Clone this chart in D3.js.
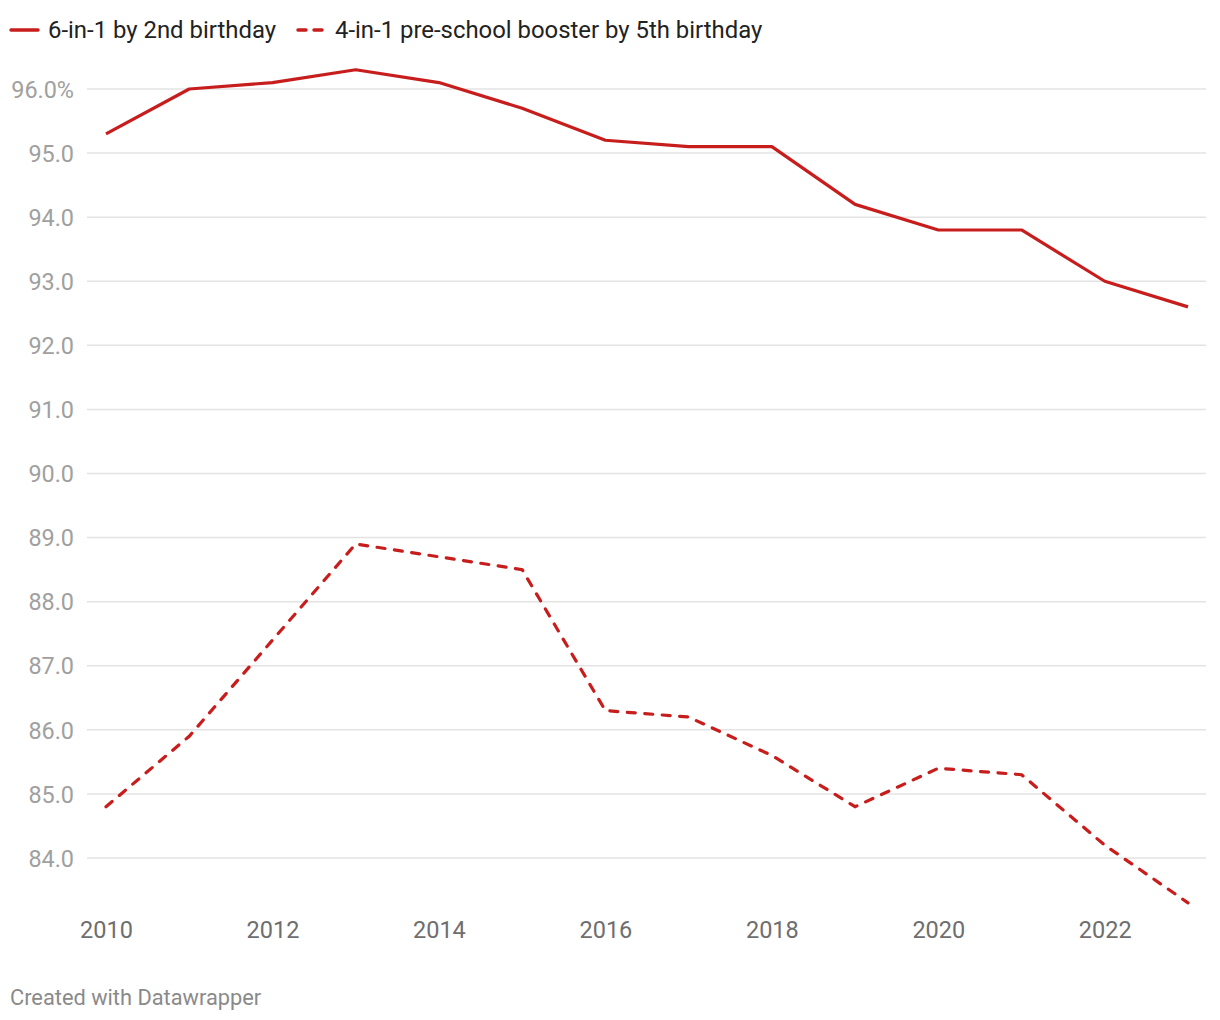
<!DOCTYPE html>
<html><head><meta charset="utf-8">
<script src="https://cdn.jsdelivr.net/npm/d3@7"></script>
<style>
body{margin:0;background:#fff;font-family:Roboto,"Noto Sans",sans-serif;}
svg{display:block;}
</style></head><body>
<svg id="c" width="1220" height="1020"></svg>
<script>
const years = [2010,2011,2012,2013,2014,2015,2016,2017,2018,2019,2020,2021,2022,2023];
const sixInOne = [95.3,96.0,96.1,96.3,96.1,95.7,95.2,95.1,95.1,94.2,93.8,93.8,93.0,92.6];
const fourInOne = [84.8,85.9,87.4,88.9,88.7,88.5,86.3,86.2,85.6,84.8,85.4,85.3,84.2,83.3];
const yTicks = [84,85,86,87,88,89,90,91,92,93,94,95,96];
const xTicks = [2010,2012,2014,2016,2018,2020,2022];
const seriesNames = ["6-in-1 by 2nd birthday","4-in-1 pre-school booster by 5th birthday"];
const red = "#c71e1d";

const svg = d3.select("#c");
const x = d3.scaleLinear().domain([2010,2023]).range([106,1188]);
const y = d3.scaleLinear().domain([84,96]).range([858,89]);

// grid
svg.append("g").selectAll("line").data(yTicks).join("line")
  .attr("x1",87).attr("x2",1206).attr("y1",d=>y(d)).attr("y2",d=>y(d))
  .attr("stroke","#e3e3e3").attr("stroke-width",1.5);
const yAxis = d3.axisLeft(y).tickValues(yTicks).tickSize(0).tickPadding(0)
  .tickFormat(d => d===96 ? d.toFixed(1)+"%" : d.toFixed(1));
const gy = svg.append("g").attr("transform","translate(74,0)").call(yAxis);
gy.select(".domain").remove();
gy.selectAll("text").attr("font-family","Roboto").attr("font-size",23.4).attr("fill","#a0a0a0").attr("dy","0.35em");

const xAxis = d3.axisBottom(x).tickValues(xTicks).tickSize(0).tickPadding(0).tickFormat(d3.format("d"));
const gx = svg.append("g").attr("transform","translate(0,922)").call(xAxis);
gx.select(".domain").remove();
gx.selectAll("text").attr("font-family","Roboto").attr("font-size",23.5).attr("fill","#6e6e6e").attr("dy","0.35em").attr("y",8);

const line = d3.line().x((d,i)=>x(years[i])).y(d=>y(d));
svg.append("path").datum(sixInOne).attr("d",line).attr("fill","none")
  .attr("stroke",red).attr("stroke-width",3.2).attr("stroke-linejoin","round");
svg.append("path").datum(fourInOne).attr("d",line).attr("fill","none")
  .attr("stroke",red).attr("stroke-width",3.2).attr("stroke-dasharray","8,9.5").attr("stroke-linecap","round");

// legend
const lg = svg.append("g");
lg.append("line").attr("x1",11).attr("x2",38).attr("y1",30).attr("y2",30).attr("stroke",red).attr("stroke-width",3.5).attr("stroke-linecap","round");
lg.append("text").attr("x",48).attr("y",30).attr("dy","0.35em").attr("font-size",23.9).attr("fill","#222").text(seriesNames[0]);
lg.append("line").attr("x1",298).attr("x2",325).attr("y1",30).attr("y2",30).attr("stroke",red).attr("stroke-width",3.5).attr("stroke-dasharray","8,8").attr("stroke-linecap","round");
lg.append("text").attr("x",335).attr("y",30).attr("dy","0.35em").attr("font-size",23.9).attr("fill","#222").text(seriesNames[1]);

svg.append("text").attr("x",10).attr("y",997).attr("dy","0.35em").attr("font-size",21.8).attr("fill","#8a8a8a").text("Created with Datawrapper");
</script>
</body></html>
